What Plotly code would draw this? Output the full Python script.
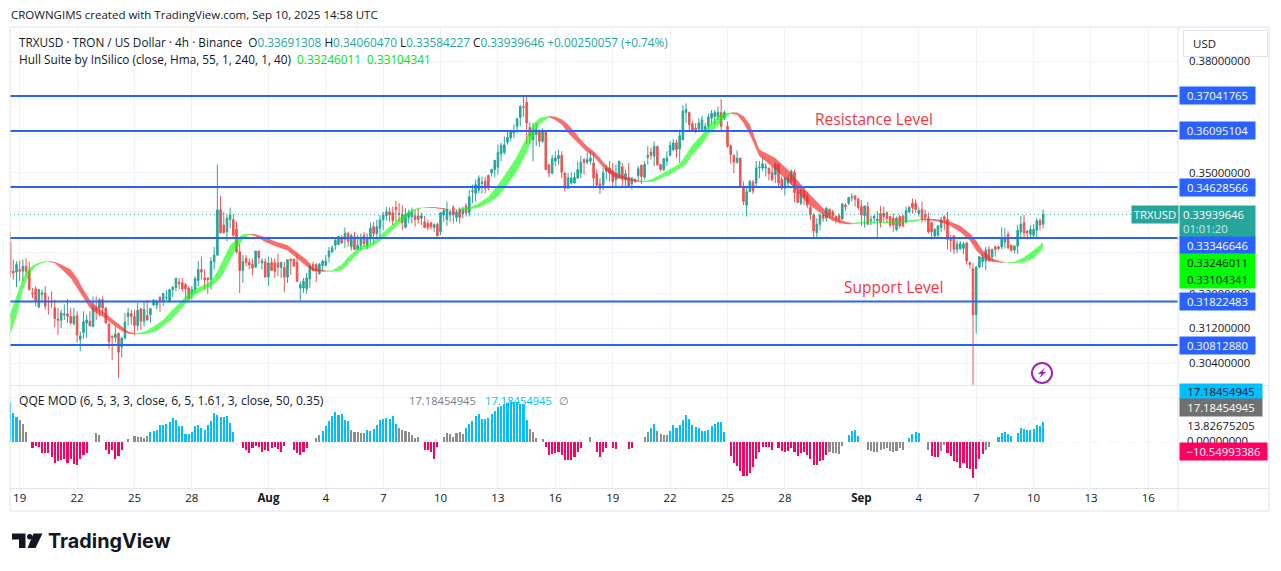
import numpy as np
import pandas as pd
import plotly.graph_objects as go

W, H = 1281, 571

dates = pd.date_range("2025-07-18 12:00", periods=325, freq="4h")

opens = [
    .3325, .3254, .3252, .3258, .3254, .3266, .3254, .3202, .3212, .3169,
    .3199, .3202, .3183, .3183, .3167, .3141, .3138, .3151, .3153, .3147,
    .3130, .3149, .3094, .3110, .3132, .3136, .3124, .3167, .3167, .3186,
    .3167, .3130, .3102, .3098, .3108, .3077, .3097, .3147, .3153, .3147,
    .3126, .3165, .3136, .3149, .3151, .3174, .3174, .3192, .3183, .3190,
    .3181, .3210, .3215, .3228, .3226, .3222, .3214, .3202, .3210, .3232,
    .3258, .3238, .3238, .3234, .3277, .3293, .3405, .3367, .3350, .3381,
    .3380, .3357, .3301, .3256, .3285, .3275, .3271, .3264, .3303, .3274,
    .3277, .3240, .3275, .3274, .3274, .3263, .3263, .3240, .3283, .3283,
    .3275, .3214, .3214, .3212, .3236, .3270, .3270, .3248, .3268, .3268,
    .3289, .3301, .3317, .3319, .3335, .3332, .3346,
    .3313, .3338, .3307, .3317, .3341, .3317, .3333, .3363, .3346, .3359,
    .3380, .3390, .3400, .3398, .3411, .3396, .3394, .3361, .3386, .3388,
    .3390, .3390, .3384, .3375, .3371, .3373, .3361, .3369, .3350, .3392,
    .3381, .3392, .3411, .3386, .3406, .3395, .3415, .3398, .3451, .3447,
    .3455, .3472, .3478, .3493, .3499, .3508, .3514, .3549, .3552, .3580,
    .3591, .3604, .3622, .3646, .3675, .3687, .3619, .3586, .3600, .3611,
    .3582, .3608, .3520, .3499, .3530, .3536, .3545, .3499, .3460, .3473,
    .3473, .3486, .3499, .3534, .3527, .3530, .3525, .3497, .3471, .3468,
    .3504, .3512, .3504, .3482, .3488, .3515, .3482, .3488, .3471, .3482,
    .3492, .3519, .3488, .3540, .3554, .3543, .3569, .3521, .3508, .3530,
    .3545, .3560, .3578, .3562, .3586, .3659, .3659, .3629, .3617, .3615,
    .3613, .3613, .3622, .3644, .3648, .3648, .3659, .3644, .3622, .3571,
    .3545, .3527, .3538, .3464, .3417, .3451,
    .3476, .3473, .3512, .3512, .3512, .3512, .3501, .3495, .3521, .3482,
    .3460, .3473, .3477, .3501, .3451, .3422, .3454, .3440, .3411, .3392,
    .3348, .3369, .3392, .3384, .3406, .3400, .3388, .3390, .3382, .3417,
    .3422, .3436, .3440, .3432, .3413, .3390, .3413, .3378, .3384, .3378,
    .3396, .3396, .3398, .3388, .3384, .3356, .3388, .3390, .3375, .3400,
    .3422, .3422, .3396, .3406, .3394, .3384, .3373, .3340, .3342, .3361,
    .3388, .3381, .3331, .3340, .3307, .3309, .3309, .3323, .3275, .3260,
    .3151, .3264, .3277, .3279, .3307, .3289, .3313, .3313, .3313, .3325,
    .3344, .3317, .3305, .3315, .3350, .3373, .3352, .3344, .3342, .3354,
    .3378, .33691,
]
highs = [
    .3350, .3282, .3278, .3280, .3282, .3285, .3277, .3214, .3218, .3212,
    .3210, .3218, .3194, .3206, .3186, .3167, .3163, .3175, .3188, .3167,
    .3167, .3159, .3112, .3159, .3151, .3159, .3194, .3194, .3190, .3194,
    .3168, .3131, .3102, .3124, .3110, .3099, .3155, .3167, .3163, .3163,
    .3179, .3167, .3183, .3186, .3167, .3188, .3186, .3194, .3202, .3210,
    .3212, .3218, .3238, .3238, .3238, .3226, .3218, .3218, .3242, .3279,
    .3289, .3258, .3238, .3288, .3313, .3521, .3440, .3400, .3394, .3411,
    .3394, .3375, .3321, .3293, .3293, .3285, .3285, .3303, .3303, .3285,
    .3285, .3289, .3287, .3285, .3297, .3277, .3277, .3282, .3285, .3285,
    .3293, .3230, .3238, .3250, .3274, .3277, .3274, .3274, .3282, .3293,
    .3313, .3317, .3333, .3340, .3342, .3361, .3350,
    .3346, .3350, .3342, .3346, .3350, .3346, .3373, .3375, .3380, .3392,
    .3400, .3413, .3411, .3413, .3428, .3422, .3417, .3409, .3406, .3411,
    .3405, .3411, .3398, .3390, .3380, .3375, .3371, .3373, .3400, .3409,
    .3426, .3406, .3417, .3405, .3411, .3413, .3422, .3455, .3469, .3482,
    .3493, .3490, .3490, .3495, .3510, .3533, .3573, .3578, .3595, .3608,
    .3613, .3627, .3645, .3679, .3706, .3706, .3632, .3631, .3631, .3613,
    .3617, .3611, .3523, .3547, .3556, .3560, .3556, .3501, .3499, .3501,
    .3501, .3530, .3543, .3538, .3552, .3556, .3552, .3508, .3486, .3512,
    .3521, .3530, .3525, .3521, .3530, .3525, .3508, .3525, .3488, .3486,
    .3517, .3521, .3530, .3569, .3565, .3582, .3569, .3523, .3538, .3556,
    .3582, .3588, .3586, .3613, .3679, .3684, .3662, .3635, .3631, .3644,
    .3650, .3631, .3657, .3666, .3666, .3675, .3696, .3665, .3635, .3573,
    .3547, .3558, .3538, .3477, .3464, .3482,
    .3482, .3530, .3530, .3541, .3525, .3512, .3517, .3527, .3523, .3490,
    .3490, .3495, .3508, .3508, .3469, .3460, .3460, .3451, .3417, .3396,
    .3384, .3396, .3396, .3413, .3409, .3405, .3392, .3396, .3422, .3422,
    .3438, .3447, .3443, .3436, .3430, .3415, .3426, .3390, .3392, .3402,
    .3415, .3413, .3400, .3390, .3396, .3388, .3392, .3392, .3413, .3415,
    .3434, .3432, .3411, .3426, .3406, .3398, .3375, .3359, .3367, .3388,
    .3392, .3400, .3342, .3342, .3329, .3327, .3325, .3323, .3277, .3274,
    .3266, .3291, .3297, .3313, .3315, .3309, .3317, .3317, .3361, .3359,
    .3352, .3319, .3317, .3367, .3390, .3392, .3354, .3367, .3369, .3384,
    .3384, .34060,
]
lows = [
    .3238, .3234, .3216, .3230, .3228, .3244, .3208, .3190, .3171, .3167,
    .3179, .3163, .3151, .3167, .3122, .3104, .3120, .3139, .3132, .3128,
    .3126, .3087, .3067, .3096, .3098, .3124, .3122, .3139, .3147, .3153,
    .3130, .3073, .3047, .3087, .3007, .3053, .3094, .3126, .3128, .3104,
    .3114, .3116, .3124, .3136, .3132, .3171, .3163, .3157, .3171, .3184,
    .3180, .3192, .3206, .3210, .3205, .3186, .3185, .3186, .3202, .3218,
    .3234, .3210, .3200, .3210, .3258, .3291, .3346, .3346, .3327, .3359,
    .3338, .3297, .3202, .3226, .3266, .3258, .3244, .3262, .3271, .3258,
    .3238, .3218, .3254, .3238, .3242, .3238, .3204, .3226, .3246, .3265,
    .3228, .3185, .3202, .3201, .3214, .3254, .3228, .3246, .3254, .3266,
    .3275, .3297, .3305, .3317, .3321, .3311, .3313,
    .3304, .3305, .3305, .3304, .3313, .3307, .3321, .3321, .3333, .3338,
    .3354, .3378, .3375, .3367, .3375, .3375, .3354, .3359, .3371, .3371,
    .3363, .3371, .3367, .3359, .3354, .3356, .3350, .3339, .3342, .3375,
    .3365, .3375, .3371, .3375, .3371, .3384, .3388, .3388, .3422, .3426,
    .3447, .3447, .3447, .3455, .3490, .3488, .3495, .3530, .3547, .3573,
    .3582, .3591, .3604, .3622, .3648, .3575, .3575, .3529, .3569, .3567,
    .3578, .3506, .3488, .3495, .3517, .3521, .3486, .3451, .3458, .3469,
    .3472, .3484, .3486, .3495, .3521, .3521, .3460, .3460, .3445, .3455,
    .3482, .3477, .3460, .3460, .3486, .3460, .3460, .3463, .3457, .3473,
    .3477, .3471, .3482, .3521, .3534, .3517, .3517, .3504, .3504, .3517,
    .3543, .3556, .3538, .3525, .3584, .3631, .3608, .3608, .3604, .3608,
    .3608, .3606, .3613, .3627, .3627, .3639, .3606, .3639, .3565, .3523,
    .3499, .3523, .3462, .3417, .3388, .3450,
    .3445, .3462, .3486, .3504, .3490, .3480, .3477, .3473, .3460, .3455,
    .3441, .3464, .3469, .3424, .3422, .3417, .3417, .3409, .3380, .3336,
    .3336, .3354, .3375, .3375, .3384, .3384, .3371, .3371, .3380, .3403,
    .3417, .3426, .3413, .3405, .3365, .3361, .3367, .3367, .3371, .3336,
    .3361, .3375, .3371, .3361, .3350, .3352, .3359, .3361, .3371, .3396,
    .3396, .3398, .3388, .3373, .3375, .3346, .3331, .3333, .3333, .3350,
    .3354, .3307, .3301, .3295, .3297, .3305, .3295, .3270, .3260, .2990,
    .3108, .3262, .3264, .3256, .3277, .3277, .3289, .3305, .3307, .3309,
    .3307, .3301, .3297, .3295, .3336, .3336, .3331, .3336, .3333, .3333,
    .3354, .33584,
]
closes = [
    .3250, .3250, .3270, .3254, .3266, .3254, .3210, .3200, .3183, .3210,
    .3202, .3171, .3181, .3181, .3142, .3138, .3155, .3153, .3147, .3132,
    .3147, .3104, .3102, .3134, .3139, .3125, .3167, .3163, .3186, .3167,
    .3132, .3089, .3099, .3106, .3065, .3097, .3134, .3155, .3147, .3126,
    .3161, .3136, .3163, .3139, .3165, .3185, .3183, .3184, .3201, .3192,
    .3210, .3216, .3237, .3224, .3212, .3212, .3188, .3210, .3236, .3258,
    .3252, .3234, .3234, .3278, .3293, .3405, .3348, .3348, .3384, .3392,
    .3342, .3301, .3256, .3277, .3275, .3269, .3261, .3303, .3287, .3279,
    .3240, .3274, .3256, .3254, .3264, .3275, .3240, .3282, .3280, .3266,
    .3230, .3222, .3230, .3238, .3266, .3258, .3256, .3271, .3278, .3279,
    .3303, .3311, .3329, .3339, .3323, .3346, .3327,
    .3341, .3307, .3317, .3333, .3321, .3336, .3359, .3346, .3363, .3380,
    .3392, .3400, .3392, .3378, .3406, .3394, .3373, .3394, .3398, .3400,
    .3381, .3381, .3390, .3361, .3361, .3363, .3368, .3340, .3398, .3403,
    .3406, .3400, .3392, .3400, .3386, .3405, .3398, .3438, .3453, .3469,
    .3486, .3475, .3460, .3460, .3508, .3532, .3553, .3571, .3573, .3593,
    .3608, .3610, .3642, .3675, .3673, .3631, .3597, .3611, .3613, .3582,
    .3611, .3508, .3499, .3536, .3538, .3545, .3501, .3460, .3486, .3486,
    .3488, .3508, .3527, .3527, .3534, .3538, .3486, .3468, .3460, .3499,
    .3512, .3499, .3477, .3499, .3530, .3486, .3497, .3464, .3486, .3477,
    .3510, .3490, .3521, .3545, .3545, .3569, .3521, .3508, .3536, .3538,
    .3571, .3578, .3560, .3597, .3663, .3668, .3626, .3611, .3608, .3631,
    .3639, .3622, .3647, .3657, .3659, .3660, .3622, .3659, .3569, .3547,
    .3527, .3538, .3464, .3426, .3451, .3477,
    .3453, .3512, .3514, .3523, .3515, .3497, .3482, .3523, .3473, .3460,
    .3486, .3486, .3504, .3449, .3424, .3455, .3438, .3417, .3392, .3352,
    .3369, .3392, .3384, .3409, .3392, .3390, .3384, .3382, .3420, .3413,
    .3436, .3438, .3432, .3411, .3392, .3415, .3369, .3380, .3388, .3382,
    .3373, .3388, .3384, .3367, .3367, .3384, .3365, .3365, .3403, .3411,
    .3411, .3406, .3403, .3381, .3384, .3350, .3350, .3356, .3365, .3380,
    .3381, .3331, .3329, .3307, .3319, .3321, .3320, .3279, .3270, .3151,
    .3264, .3289, .3288, .3305, .3279, .3307, .3307, .3309, .3336, .3333,
    .3311, .3305, .3315, .3354, .3369, .3348, .3348, .3356, .3356, .3378,
    .3367, .33939,
]

# hull band, read every few bars, colour flips at the turn bars
hull_bars = [
    0, 2, 4, 6, 8, 10, 12, 14, 16, 19, 21, 23, 25, 27, 29, 31, 33, 35, 37, 39,
    42, 44, 46, 48, 50, 52, 54, 56, 58, 60, 63, 65, 67, 69, 71, 73, 75,
    77, 80, 83, 87, 90, 93, 95, 99,
    101, 104, 106, 110, 113, 116, 119, 122, 126, 129, 130,
    133, 136, 138,
    141, 144, 147, 150, 153, 156, 159, 162, 164, 166, 169,
    171, 173, 175, 177, 179, 181, 183, 185, 187, 190, 192, 194, 197, 198,
    200, 202, 204, 207, 210, 212, 214, 217, 219, 222, 224, 226,
    228, 230, 232, 235, 240, 245, 250, 255, 258, 262, 264,
    266, 271, 275, 279, 284, 286,
    290, 294, 298, 301, 303, 305, 308, 312,
    315, 318, 321, 324,
]
hull_upper = [
    .3153, .3194, .3238, .3262, .3272, .3277, .3278,
    .3277, .3270, .3258, .3238, .3210, .3186, .3171, .3159, .3147, .3136, .3122, .3112, .3108,
    .3111, .3119, .3130, .3139, .3155, .3171, .3186, .3200, .3212, .3218, .3230, .3254, .3285, .3317, .3333, .3344, .3345,
    .3344, .3337, .3327, .3317, .3299, .3282, .3262, .3256,
    .3256, .3270, .3289, .3315, .3321, .3341, .3363, .3384, .3406, .3411, .3412,
    .3412, .3409, .3406,
    .3409, .3411, .3422, .3438, .3469, .3504, .3543, .3595, .3627, .3644, .3650,
    .3648, .3641, .3627, .3608, .3586, .3569, .3556, .3538, .3518, .3499, .3492, .3486, .3480, .3479,
    .3480, .3486, .3495, .3508, .3523, .3547, .3573, .3600, .3624, .3648, .3657, .3659,
    .3659, .3650, .3627, .3560, .3538, .3499, .3451, .3409, .3388, .3375, .3372,
    .3374, .3375, .3375, .3377, .3381, .3382,
    .3382, .3378, .3365, .3346, .3329, .3305, .3285, .3275,
    .3277, .3288, .3305, .33246,
]
hull_lower = [
    .3104, .3147, .3210, .3246, .3266, .3274, .3276,
    .3274, .3260, .3238, .3214, .3190, .3167, .3155, .3147, .3136, .3124, .3114, .3107, .3106,
    .3106, .3109, .3114, .3124, .3136, .3151, .3167, .3185, .3197, .3206, .3218, .3230, .3250, .3282, .3309, .3331, .3343,
    .3339, .3325, .3315, .3304, .3284, .3266, .3254, .3253,
    .3253, .3256, .3272, .3305, .3311, .3327, .3348, .3369, .3400, .3409, .3411,
    .3410, .3406, .3405,
    .3405, .3406, .3411, .3422, .3438, .3469, .3504, .3552, .3595, .3627, .3646,
    .3639, .3627, .3604, .3586, .3569, .3553, .3543, .3523, .3504, .3486, .3482, .3480, .3477, .3476,
    .3475, .3477, .3484, .3495, .3510, .3521, .3547, .3573, .3600, .3622, .3644, .3656,
    .3653, .3631, .3600, .3543, .3508, .3469, .3422, .3392, .3378, .3369, .3369,
    .3370, .3373, .3372, .3373, .3375, .3380,
    .3378, .3369, .3350, .3329, .3305, .3288, .3277, .3274,
    .3274, .3275, .3285, .33104,
]
hull_turns = [0, 12, 39, 75, 99, 130, 138, 169, 198, 226, 264, 286, 312, 324]

qqe_values = [
    27.9, 20.6, 17.5, 15.3, 12.6, 7.3, 0,
    -4.4, -2.9, -3.6, -8.0, -8.0, -8.0, -10.4, -15.0, -13.3, -12.6, -12.1, -15.0, -12.1, -15.8, -16.5, -12.1, -9.2, -8.0,
    0, 0, 6.6, 4.9, 0,
    -5.3, -8.5, -5.3, -11.7, -10.2, -5.3, 0,
    2.4, 0, 4.4, 3.6, 3.6, 2.9, 4.4,
    7.3, 8.0, 8.5, 12.1, 11.7, 12.6, 14.1, 17.0, 15.8, 10.9, 10.9, 5.3, 5.3, 7.3, 10.9, 11.7, 9.7, 8.5, 11.7, 14.6, 20.6, 18.9, 17.5, 17.5, 18.2, 13.3, 7.3,
    0, 0, -4.4, -5.3, -7.8, -4.4, -2.9, -3.6, -6.8, -5.3, -6.1, -4.4, -3.6, -4.9, -6.8, -2.9, 0, 0, -5.3, -7.8, -9.2, -7.3, -4.4, 0, 0,
    2.9, 4.9,
    7.8, 10.9, 14.6, 18.2, 21.4, 18.9, 19.9, 15.8, 15.0,
    8.5, 6.8, 7.3, 6.1, 6.1,
    8.5, 8.0, 9.2, 12.1, 15.8, 16.5, 17.0, 16.5, 18.2, 12.6,
    9.7, 8.5, 7.8, 7.3, 4.9, 2.9, 3.4,
    0, -5.3, -5.3, -6.8, -11.7, -3.6, 0,
    3.6, 6.1, 5.3, 3.6, 6.1, 6.8, 5.3,
    9.7, 12.6, 14.6, 18.2, 19.4, 16.5, 16.5, 17.0, 19.9, 21.8, 24.3, 25.5, 26.7, 27.2, 27.9, 27.9, 27.9, 26.7, 26.2, 15.8,
    9.2, 7.3, 2.9, 0, 1.9,
    -3.6, -9.0, -8.5, -8.0, -6.8, -9.2, -12.9, -12.9, -12.6, -10.9, -7.3, -4.4, 0, 0,
    3.4, 0,
    -7.3, -10.9, -7.3, -4.4, 0, -4.1, -4.9, 0, 0, 0, -4.9, -4.1, 0, 0, 0,
    3.6, 7.3,
    9.7, 12.6,
    8.0, 5.3, 4.9, 4.9,
    8.0, 11.7, 9.7, 12.1, 15.8, 18.9, 16.3, 11.7, 10.2, 9.7, 7.8, 7.8, 8.5, 10.9, 12.6, 14.1, 14.1, 6.8,
    0, -10.2, -15.0, -17.0, -20.6, -24.3, -24.3, -21.8, -17.7, -12.1, -7.3, -3.2, -3.2, -3.6, -5.3, 0,
    -4.4, -6.1, -6.8, -6.1, -4.4, -6.8, -9.7, -7.8, -7.3, -9.2, -11.7, -16.5, -16.5, -13.3, -12.6, -9.2,
    -7.3, -7.8, -8.0, -8.5, -2.9,
    0, 4.9, 7.8, 8.5, 4.4, 0, 0,
    -5.3, -6.1, -6.8, -7.3, -5.3, -4.9, -4.4, -6.1, -7.3, -6.1, -4.4, -5.3,
    0, 2.9, 5.3, 6.8, 6.1, 0, 0,
    -5.3,
    -10.2, -10.9, -10.9,
    -6.1, -2.4,
    -7.8, -10.2, -13.3, -14.1, -18.2, -15.0, -18.2, -18.9, -25.5, -18.9, -12.1, -8.5,
    -5.3, -3.6, 0, 0,
    3.2, 6.1, 6.8, 5.3, 4.4, 0, 6.1, 9.7, 9.2, 8.5, 8.5, 9.2, 11.7, 10.9, 13.83,
]
qqe_runs = [
    ("b", 3), ("g", 4), ("p", 18), ("g", 5), ("p", 7), ("g", 7), ("b", 27), ("p", 25), ("g", 2),
    ("b", 9), ("g", 5), ("b", 10), ("g", 7), ("p", 7), ("g", 7), ("b", 20), ("g", 5), ("p", 14),
    ("g", 2), ("p", 15), ("g", 2), ("b", 2), ("g", 4), ("b", 18), ("p", 32), ("g", 5), ("b", 7),
    ("g", 12), ("b", 7), ("g", 1), ("p", 3), ("g", 2), ("p", 12), ("g", 4), ("b", 15),
]

levels = [0.37041765, 0.36095104, 0.34628566, 0.33346646, 0.31822483, 0.30812880]
last_price = 0.33939646
price_ticks = [0.38, 0.36, 0.35, 0.34, 0.33, 0.32, 0.312, 0.304]
price_tick_labels = ["0.38000000", "", "0.35000000", "", "", "0.32000000", "0.31200000", "0.30400000"]
tick_dates = ["2025-07-19", "2025-07-22", "2025-07-25", "2025-07-28", "2025-08-01", "2025-08-04",
              "2025-08-07", "2025-08-10", "2025-08-13", "2025-08-16", "2025-08-19", "2025-08-22",
              "2025-08-25", "2025-08-28", "2025-09-01", "2025-09-04", "2025-09-07", "2025-09-10",
              "2025-09-13", "2025-09-16"]
tick_labels = ["19", "22", "25", "28", "<b>Aug</b>", "4", "7", "10", "13", "16", "19", "22", "25",
               "28", "<b>Sep</b>", "4", "7", "10", "13", "16"]

GREEN = "#26a69a"
RED = "#ef5350"
BLUE = "#2962ff"
GRID = "#f0f3fa"
EDGE = "#e0e3eb"
FONT = "Open Sans"
QQE_COLORS = {"b": "#00bfff", "g": "#8c8c8c", "p": "#ff0062"}
X_RANGE = ["2025-07-18 11:50", "2025-09-17 13:10"]


def px(x):
    return x / W


def py(y):
    return 1 - y / H


fig = go.Figure()

fig.add_trace(go.Candlestick(
    x=dates, open=opens, high=highs, low=lows, close=closes, xaxis="x", yaxis="y",
    increasing=dict(line=dict(color=GREEN, width=1), fillcolor=GREEN),
    decreasing=dict(line=dict(color=RED, width=1), fillcolor=RED),
    whiskerwidth=0, hoverinfo="skip", showlegend=False,
))

# one closed polygon per colour run of the hull band
for n in range(len(hull_turns) - 1):
    keep = [i for i, b in enumerate(hull_bars) if hull_turns[n] <= b <= hull_turns[n + 1]]
    xs = [dates[hull_bars[i]] for i in keep]
    up = [hull_upper[i] for i in keep]
    down = [hull_lower[i] for i in keep]
    color = "rgba(0,255,0,0.6)" if n % 2 == 0 else "rgba(247,40,40,0.68)"
    fig.add_trace(go.Scatter(
        x=xs + xs[::-1], y=up + down[::-1], mode="lines", fill="toself", fillcolor=color,
        line=dict(width=0), xaxis="x", yaxis="y", hoverinfo="skip", showlegend=False,
    ))

qqe_kinds = [k for k, count in qqe_runs for _ in range(count)]
assert len(qqe_kinds) == len(qqe_values) == len(dates) == len(opens) == len(highs) == len(lows) == len(closes)
assert len(hull_bars) == len(hull_upper) == len(hull_lower)

fig.add_trace(go.Bar(
    x=dates, y=qqe_values, marker=dict(color=[QQE_COLORS[k] for k in qqe_kinds], line_width=0),
    width=2.1 * 4 * 3600 * 1000 / 3.19, xaxis="x2", yaxis="y2", hoverinfo="skip", showlegend=False,
))

shapes = []
for level in levels:
    shapes.append(dict(type="line", xref="paper", yref="y", x0=px(10), x1=px(1178), y0=level, y1=level,
                       line=dict(color=BLUE, width=2), layer="above"))
shapes.append(dict(type="line", xref="paper", yref="y", x0=px(10), x1=px(1178), y0=last_price, y1=last_price,
                   line=dict(color=GREEN, width=1, dash="1px,3px"), layer="above"))
shapes.append(dict(type="line", xref="paper", yref="y2", x0=px(10), x1=px(1178), y0=0, y1=0,
                   line=dict(color=GRID, width=1, dash="dash"), layer="below"))

# frame and pane separators
for x0, y0, x1, y1 in [(10, 27, 1269, 27), (10, 511, 1269, 511), (10, 27, 10, 511), (1269, 27, 1269, 511),
                       (1178, 27, 1178, 511), (10, 385.5, 1269, 385.5), (10, 488.5, 1269, 488.5)]:
    shapes.append(dict(type="line", xref="paper", yref="paper", x0=px(x0), x1=px(x1), y0=py(y0), y1=py(y1),
                       line=dict(color=EDGE, width=1), layer="above"))

# bolt badge
shapes.append(dict(type="circle", xref="paper", yref="paper", x0=px(1032), x1=px(1052), y0=py(383), y1=py(363),
                   line=dict(color="#9c27b0", width=2), fillcolor="white", layer="above"))
bolt = [(1045, 367.5), (1038, 374), (1041.5, 374), (1039, 378.5), (1046, 372), (1042.5, 372)]
shapes.append(dict(type="path", xref="paper", yref="paper", layer="above", fillcolor="#9c27b0", line_width=0,
                   path="M" + " L".join(f"{px(x)},{py(y)}" for x, y in bolt) + " Z"))

# TradingView mark
logo_t = [(12, 533.5), (25.5, 533.5), (25.5, 548), (19, 548), (19, 539.5), (12, 539.5)]
logo_slash = [(33.5, 533.5), (42.5, 533.5), (35.5, 548), (27.5, 548)]
for poly in (logo_t, logo_slash):
    shapes.append(dict(type="path", xref="paper", yref="paper", layer="above", fillcolor="#131722", line_width=0,
                       path="M" + " L".join(f"{px(x)},{py(y)}" for x, y in poly) + " Z"))
shapes.append(dict(type="circle", xref="paper", yref="paper", x0=px(27), x1=px(32.4), y0=py(539.4), y1=py(534),
                   fillcolor="#131722", line_width=0, layer="above"))


def note(text, x, y, size=12, color="#131722", anchor="left", family=FONT, **kw):
    return dict(text=text, x=px(x), y=py(y), xref="paper", yref="paper", xanchor=anchor, yanchor="middle",
                showarrow=False, font=dict(size=size, color=color, family=family), borderpad=0, **kw)


def tag(text, y, bg, color="white", x=1179, width=75, height=17, yref="paper", size=11.3, align="center"):
    yval = np.log10(y) if yref == "y" else py(y)
    return dict(text=text, x=px(x), y=yval, xref="paper", yref=yref, xanchor="left", yanchor="middle",
                showarrow=False, bgcolor=bg, width=width, height=height, align=align, valign="middle",
                borderpad=0, font=dict(size=size, color=color, family=FONT))


g = f'<span style="color:{GREEN}">'
lime = '<span style="color:#00e600">'
annotations = [
    note("CROWNGIMS created with TradingView.com, Sep 10, 2025 14:58 UTC", 10, 14, size=11.5),
    note(f"TRXUSD · TRON / US Dollar · 4h · Binance  O{g}0.33691308</span> H{g}0.34060470</span> "
         f"L{g}0.33584227</span> C{g}0.33939646</span> {g}+0.00250057 (+0.74%)</span>", 18, 42, size=11.8),
    note(f"Hull Suite by InSilico (close, Hma, 55, 1, 240, 1, 40)  {lime}0.33246011  0.33104341</span>", 18, 59, size=11.8),
    note("QQE MOD (6, 5, 3, 3, close, 6, 5, 1.61, 3, close, 50, 0.35)", 18, 400, size=12.1),
    note("17.18454945", 408, 400, size=11.2, color="#787b86"),
    note("17.18454945", 484, 400, size=11.2, color="#00bfff"),
    note("∅", 558, 400, size=11.2, color="#787b86"),
    note("Resistance Level", 874, 119, size=15.5, color="#f23645", anchor="center"),
    note("Support Level", 893, 287, size=15.5, color="#f23645", anchor="center"),
    note("<b>TradingView</b>", 47, 541, size=19.8, family="Inter"),
    dict(text=" ", x=px(1183), y=py(44), xref="paper", yref="paper", xanchor="left", yanchor="middle", showarrow=False,
         bgcolor="white", bordercolor=EDGE, borderwidth=1, width=83, height=25, borderpad=0),
    note("USD", 1192, 43.5, size=11.5),
    tag("TRXUSD", 214, GREEN, x=1131, width=46, height=17),
    tag(" 0.33939646<br> <span style='color:#c8e8e4'>01:01:20</span>", 221.5, GREEN, height=31, align="left"),
]
for level in levels:
    if level == 0.33346646:
        annotations.append(tag(f"{level:.8f}", 245.5, BLUE))  # pushed down by the price tag above it
    else:
        annotations.append(tag(f"{level:.8f}", level, BLUE, yref="y"))
annotations += [
    tag("0.33246011", 262.5, "#00ff00", color="#131722", height=17),
    tag("0.33104341", 279.5, "#00ff00", color="#131722", height=17),
    tag("17.18454945", 392, "#00bfff", color="#131722", width=82, height=15),
    tag("17.18454945", 408, "#707070", width=82, height=17),
    tag("13.82675205", 425, "white", color="#131722", width=82, height=15),
    tag("0.00000000", 439.5, "white", color="#131722", width=75, height=12),
    tag("−10.54993386", 451, "#ff0062", width=87, height=17),
]

fig.update_layout(
    width=W, height=H, margin=dict(l=0, r=0, t=0, b=0), paper_bgcolor="white", plot_bgcolor="white",
    bargap=0, shapes=shapes, annotations=annotations, showlegend=False,
    font=dict(family=FONT, size=12, color="#131722"),
    xaxis=dict(domain=[px(10), px(1178)], range=X_RANGE, anchor="y",
               showticklabels=False, tickvals=tick_dates, showgrid=True, gridcolor=GRID, zeroline=False,
               rangeslider=dict(visible=False), showline=False, ticks=""),
    xaxis2=dict(domain=[px(10), px(1178)], range=X_RANGE, anchor="y2", tickvals=tick_dates, ticktext=tick_labels,
                showgrid=True, gridcolor=GRID, zeroline=False, ticks="", tickfont=dict(size=11.5), ticklabelstandoff=1,
                showline=False),
    yaxis=dict(domain=[py(385), py(27)], type="log", range=[np.log10(0.29915), np.log10(0.38979)], anchor="x",
               side="right", tickvals=price_ticks, ticktext=price_tick_labels,
               showgrid=True, gridcolor=GRID, zeroline=False, ticks="", ticklabelstandoff=10, tickfont=dict(size=11.3)),
    yaxis2=dict(domain=[py(488), py(386)], range=[-32.4, 39.4], anchor="x2", side="right", tickvals=[31],
                showticklabels=False, showgrid=True, gridcolor=GRID, zeroline=False, ticks=""),
)

fig.write_html("out.html", config=dict(displayModeBar=False),
               post_script="document.body.style.margin='0';document.body.style.overflow='hidden';")
